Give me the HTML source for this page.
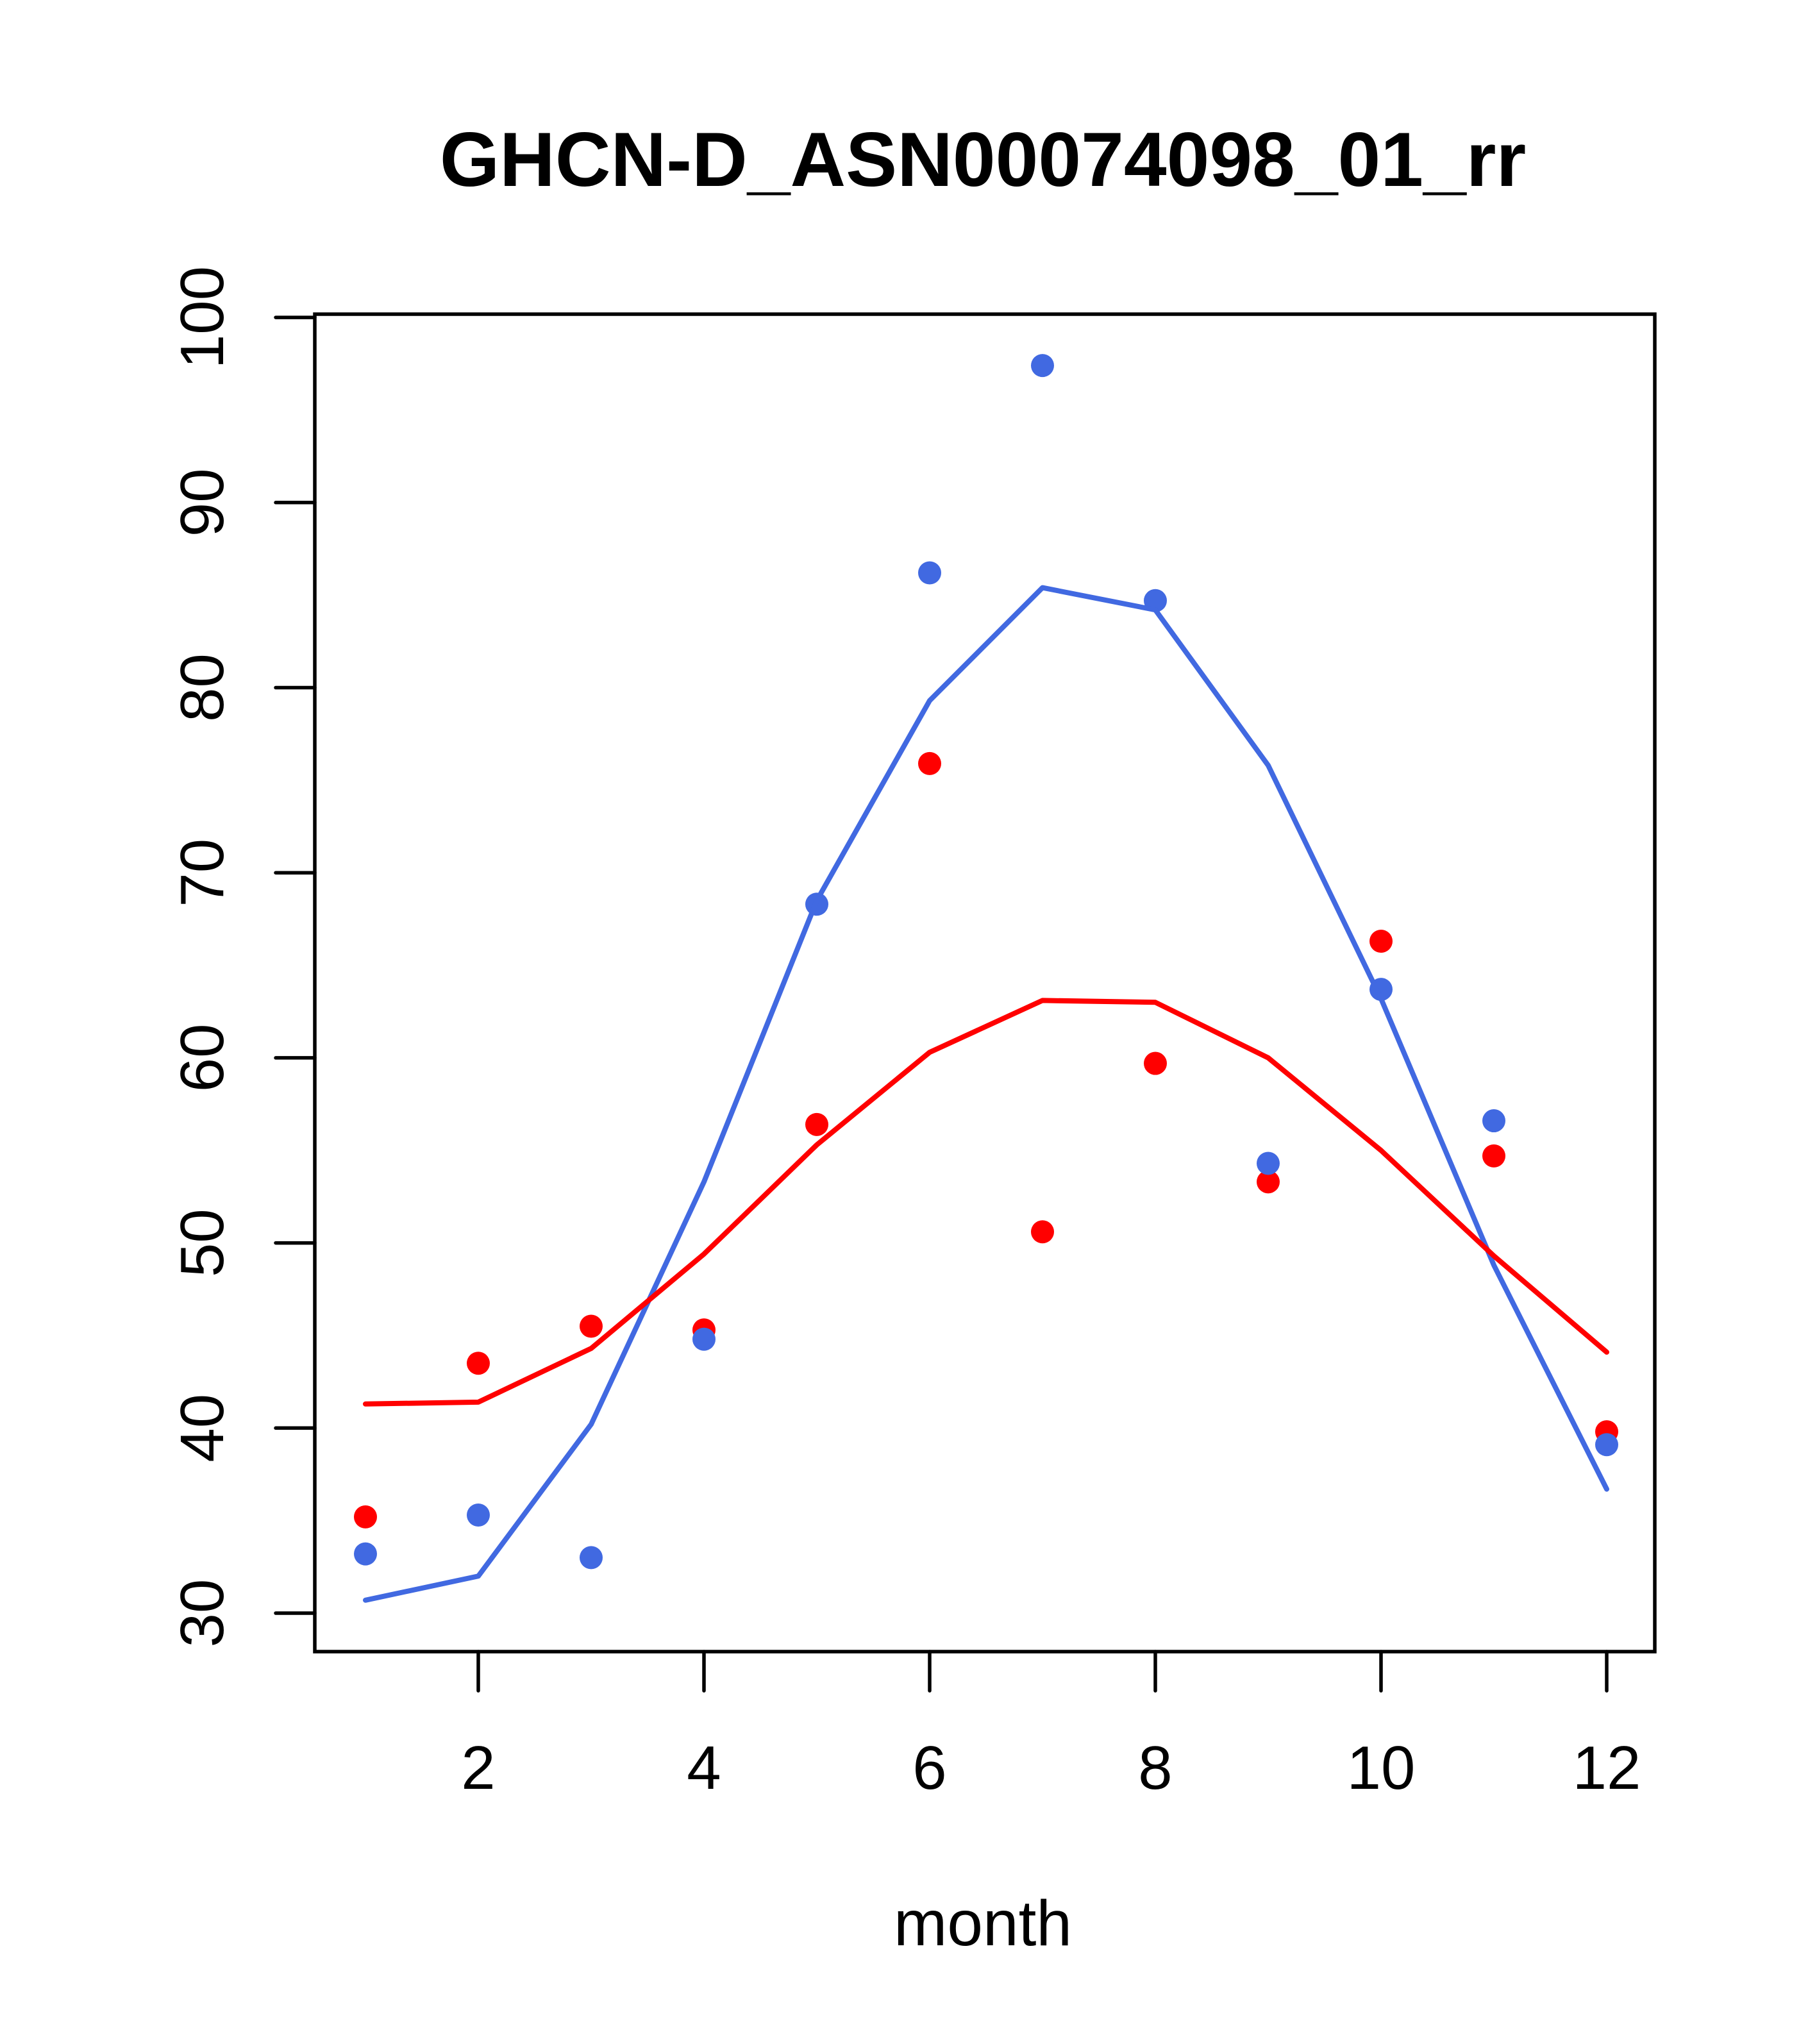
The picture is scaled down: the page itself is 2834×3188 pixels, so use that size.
<!DOCTYPE html>
<html><head><meta charset="utf-8"><style>html,body{margin:0;padding:0;background:#fff}svg{display:block}</style></head>
<body>
<svg id="chart" width="2834" height="3188" xmlns="http://www.w3.org/2000/svg" font-family="'Liberation Sans', sans-serif">
<text x="1533" y="290" font-size="120" font-weight="bold" text-anchor="middle">GHCN-D_ASN00074098_01_rr</text>
<text x="1533" y="3034" font-size="100" text-anchor="middle">month</text>
<g id="plot"></g>
</svg>
<script>
const months = [1,2,3,4,5,6,7,8,9,10,11,12];
const bluePoints = [33.2,35.3,33.0,44.8,68.3,86.2,97.4,84.7,54.3,63.7,56.6,39.1];
const redPoints = [35.2,43.5,45.5,45.3,56.4,75.9,50.6,59.7,53.3,66.3,54.7,39.8];
const blueLine = [30.7,32.0,40.2,53.3,68.5,79.3,85.4,84.2,75.8,63.2,48.8,36.7];
const redLine = [41.3,41.4,44.3,49.4,55.3,60.3,63.1,63.0,60.0,55.0,49.3,44.1];
const xTicks = [2,4,6,8,10,12];
const yTicks = [30,40,50,60,70,80,90,100];

const NS = "http://www.w3.org/2000/svg";
const g = document.getElementById('plot');
const X = m => 570 + (m - 1) * 176;
const Y = v => 2516 - (v - 30) * 28.87;
function mk(tag, attrs){const e=document.createElementNS(NS,tag);for(const k in attrs)e.setAttribute(k,attrs[k]);g.appendChild(e);return e;}

let box = mk('rect',{x:491,y:490,width:2090,height:2086,fill:'none',stroke:'#000','stroke-width':5.5});



xTicks.forEach(t=>{
  let l=mk('line',{x1:X(t),x2:X(t),y1:2576,y2:2637,stroke:'#000','stroke-width':5.5,'stroke-linecap':'round'});
  
  
  let tx=mk('text',{x:X(t),y:2790,'font-size':96,'text-anchor':'middle'});
  tx.textContent=t;
  
  
});
yTicks.forEach(t=>{
  let l=mk('line',{x1:430,x2:491,y1:Y(t),y2:Y(t),stroke:'#000','stroke-width':5.5,'stroke-linecap':'round'});
  
  
  let tx=mk('text',{x:0,y:0,'font-size':96,'text-anchor':'middle',transform:`translate(348 ${Y(t)}) rotate(-90)`});
  tx.textContent=t;
  
  
});

function line(vals,color,name){
  let p=mk('polyline',{points:months.map((m,i)=>X(m)+','+Y(vals[i])).join(' '),fill:'none',stroke:color,'stroke-width':8,'stroke-linejoin':'round','stroke-linecap':'round'});
  
  
}
function pts(vals,color,name){
  months.forEach((m,i)=>{
    let c=mk('circle',{cx:X(m),cy:Y(vals[i]),r:18,fill:color});
    
    
  });
}
pts(redPoints,'#ff0000','red-point');
pts(bluePoints,'#4169e1','blue-point');
line(blueLine,'#4169e1','blue-line');
line(redLine,'#ff0000','red-line');
</script>
</body></html>
